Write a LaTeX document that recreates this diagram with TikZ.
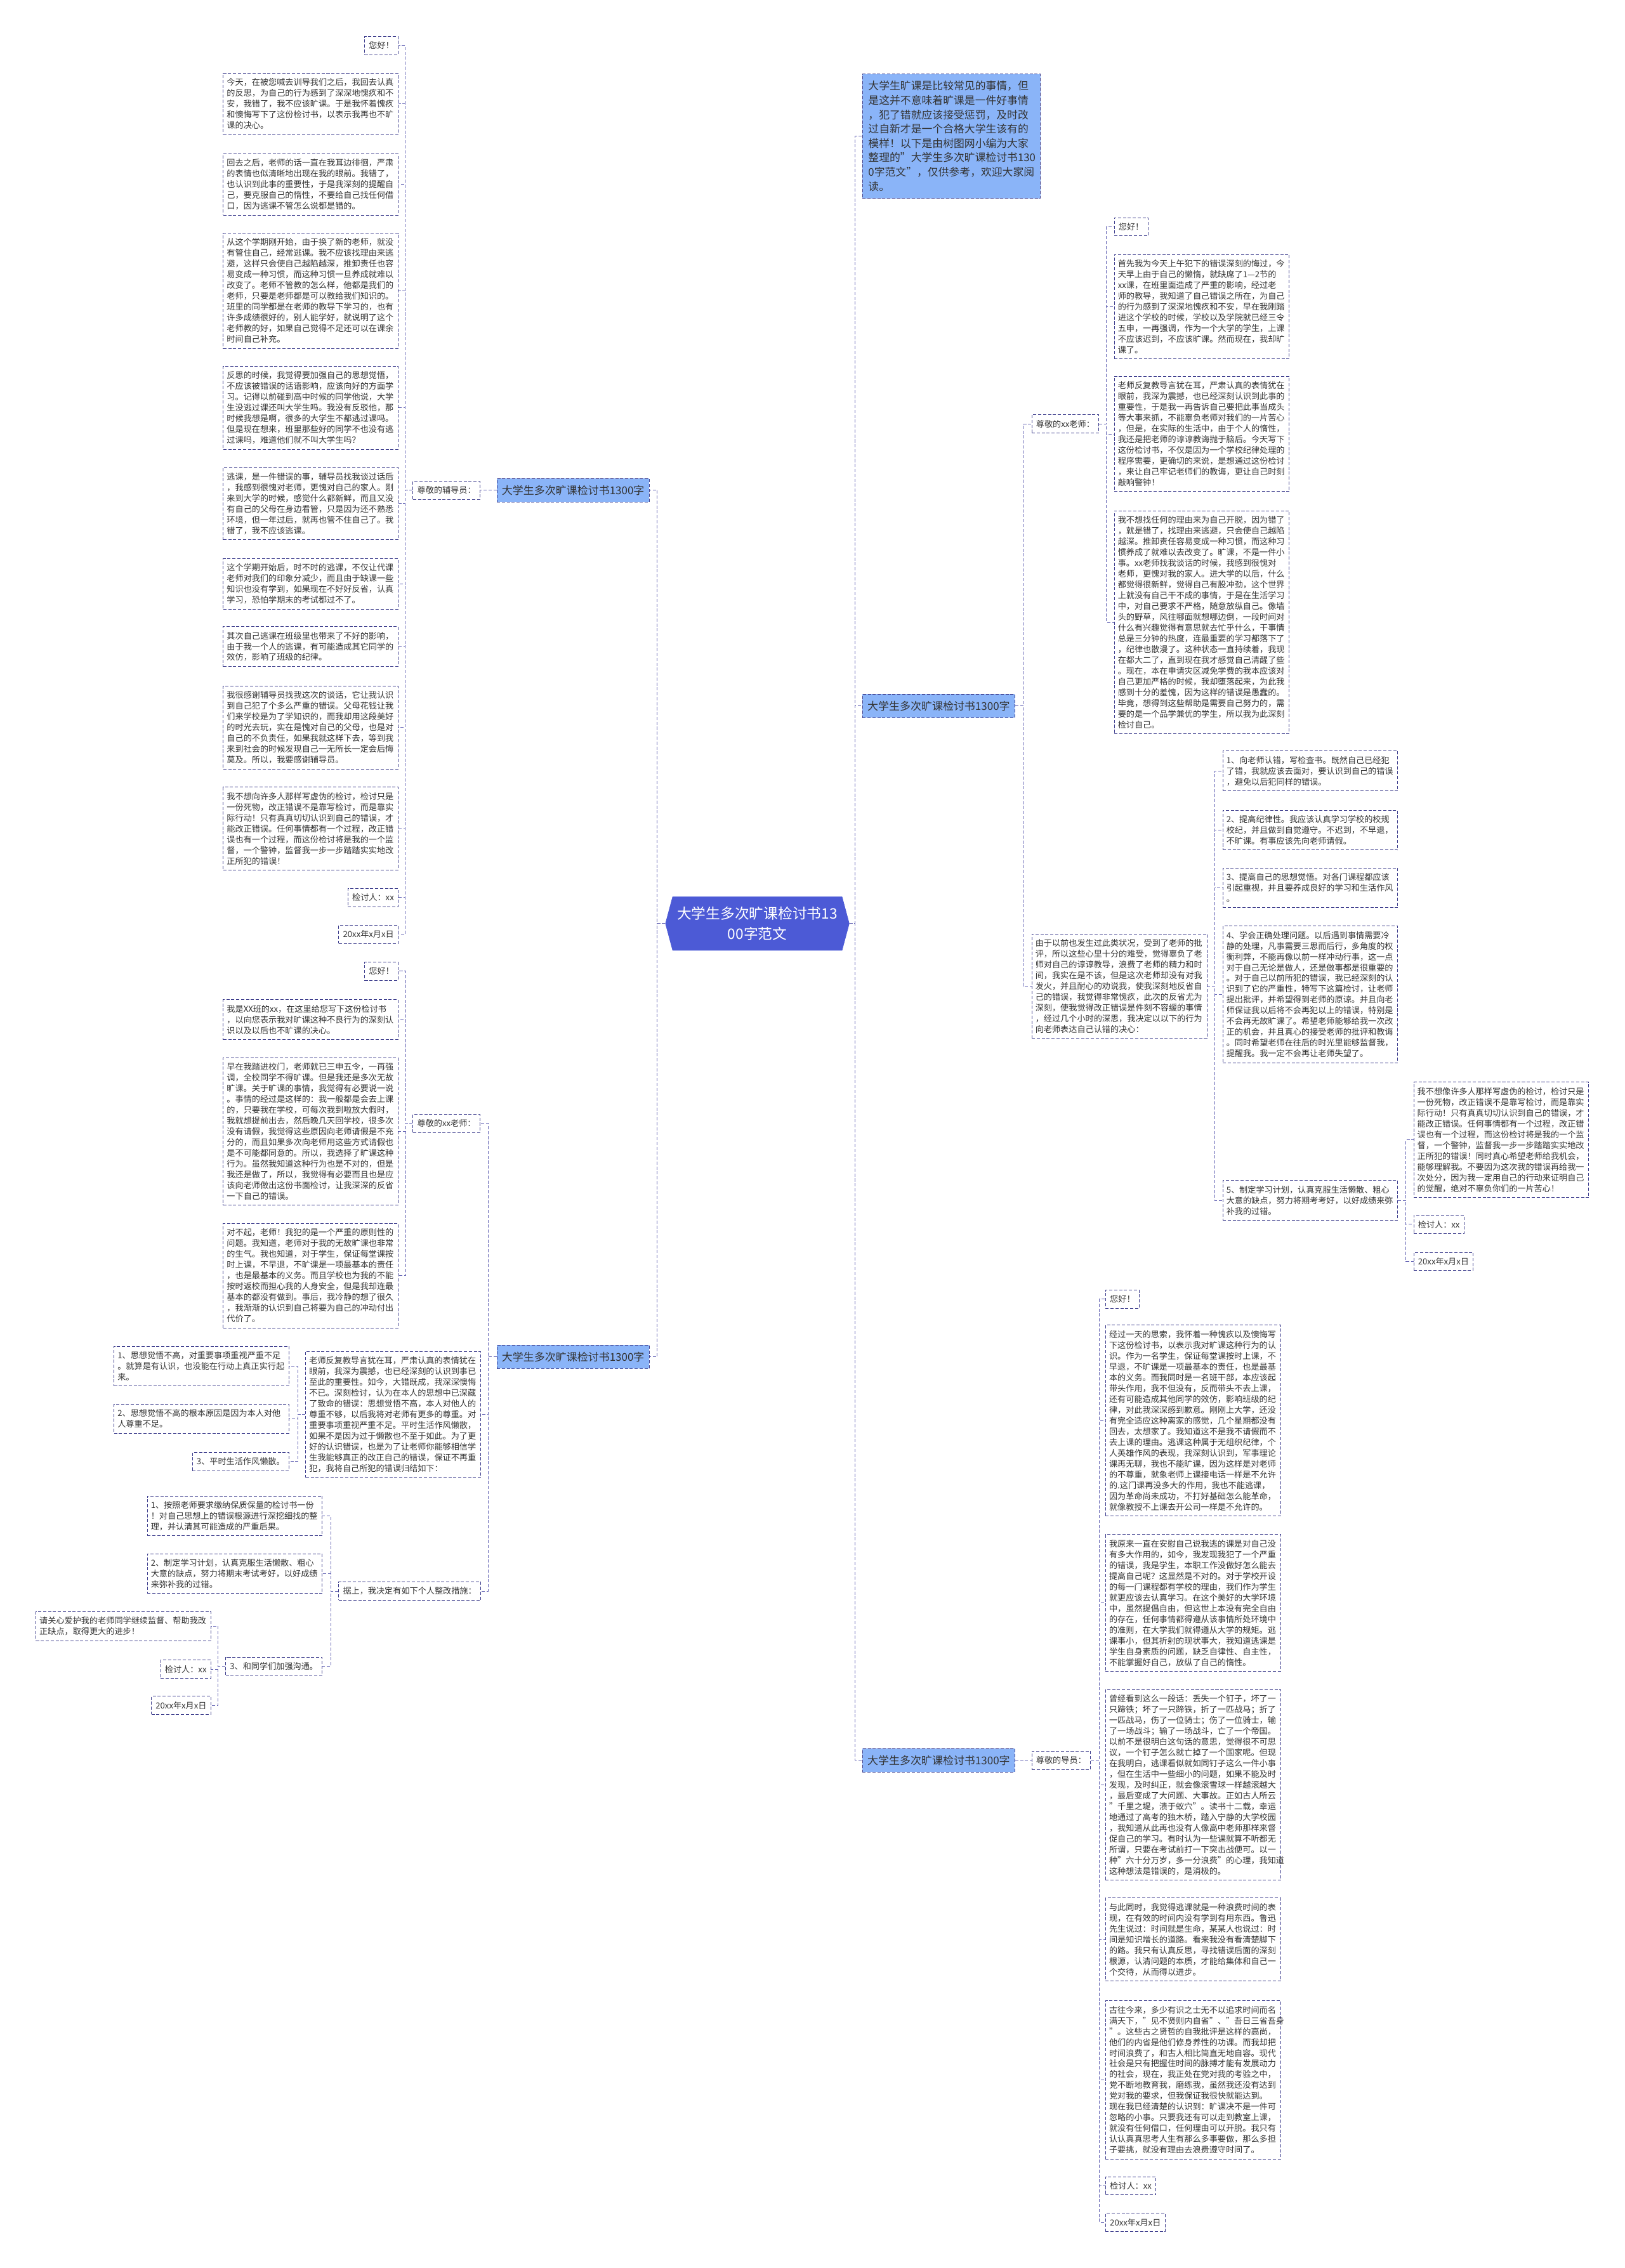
\documentclass[tikz,border=0pt]{standalone}
\usepackage{fontspec}
\setmainfont{Noto Sans CJK SC}
\usetikzlibrary{shapes.symbols}
\definecolor{BoxNavy}{RGB}{60,60,140}
\definecolor{LinkViolet}{RGB}{100,100,180}
\definecolor{LabelBlue}{RGB}{138,180,248}
\definecolor{HubBlue}{RGB}{76,90,214}
\definecolor{InkGray}{RGB}{51,51,51}
\newcommand\paratext{\fontsize{8.2pt}{10.6pt}\selectfont}
\newcommand\branchtext{\fontsize{10.6pt}{13pt}\selectfont}
\newcommand\introtext{\fontsize{10.5pt}{14.1pt}\selectfont}
\newcommand\hubtext{\fontsize{14.2pt}{19.8pt}\selectfont}
\tikzset{
  boxline/.style={draw=BoxNavy,line width=0.6pt,dash pattern=on 0.11cm off 0.06cm},
  para/.style={boxline,text=InkGray,font=\paratext,text width=5.8cm,align=left,
    inner xsep=0.125cm,inner ysep=0.18cm},
  tag/.style={boxline,text=InkGray,font=\paratext,inner xsep=0.15cm,inner ysep=0.18cm},
  branch/.style={boxline,fill=LabelBlue,text=InkGray,font=\branchtext,
    inner xsep=0.17cm,inner ysep=0.23cm},
  intro/.style={boxline,fill=LabelBlue,text=InkGray,font=\introtext,text width=5.75cm,
    align=left,inner xsep=0.2cm,inner ysep=0.24cm},
  hub/.style={shape=signal,signal to=west and east,signal pointer angle=150,
    fill=HubBlue,draw=HubBlue,text=white,font=\hubtext,align=center,
    minimum width=6.35cm,minimum height=1.85cm},
  link/.style={draw=LinkViolet,line width=0.6pt,dash pattern=on 0.11cm off 0.06cm}
}
\begin{document}
\begin{tikzpicture}[x=0.05cm,y=-0.05cm]
  \useasboundingbox (0,0) rectangle (1123,1568);
  \node[hub] (root) at (523.5,638.5) {大学生多次旷课检讨书13\\00字范文};

  % left, first letter
  \node[branch,anchor=east] (bra) at (449,339) {大学生多次旷课检讨书1300字};
  \node[tag,anchor=east] (asal) at (332,339) {尊敬的辅导员：};
  \node[tag,anchor=north east] (ahi) at (275.5,25) {您好！};
  \node[para,anchor=north east] (aone) at (275.5,50.4) {今天，在被您喊去训导我们之后，我回去认真\\
    的反思，为自己的行为感到了深深地愧疚和不\\
    安，我错了，我不应该旷课。于是我怀着愧疚\\
    和懊悔写下了这份检讨书，以表示我再也不旷\\
    课的决心。};
  \node[para,anchor=north east] (atwo) at (275.5,106) {回去之后，老师的话一直在我耳边徘徊，严肃\\
    的表情也似清晰地出现在我的眼前。我错了，\\
    也认识到此事的重要性，于是我深刻的提醒自\\
    己，要克服自己的惰性，不要给自己找任何借\\
    口，因为逃课不管怎么说都是错的。};
  \node[para,anchor=north east] (athree) at (275.5,161) {从这个学期刚开始，由于换了新的老师，就没\\
    有管住自己，经常逃课。我不应该找理由来逃\\
    避，这样只会使自己越陷越深，推卸责任也容\\
    易变成一种习惯，而这种习惯一旦养成就难以\\
    改变了。老师不管教的怎么样，他都是我们的\\
    老师，只要是老师都是可以教给我们知识的。\\
    班里的同学都是在老师的教导下学习的，也有\\
    许多成绩很好的，别人能学好，就说明了这个\\
    老师教的好，如果自己觉得不足还可以在课余\\
    时间自己补充。};
  \node[para,anchor=north east] (afour) at (275.5,253) {反思的时候，我觉得要加强自己的思想觉悟，\\
    不应该被错误的话语影响，应该向好的方面学\\
    习。记得以前碰到高中时候的同学他说，大学\\
    生没逃过课还叫大学生吗。我没有反驳他，那\\
    时候我想是啊，很多的大学生不都逃过课吗。\\
    但是现在想来，班里那些好的同学不也没有逃\\
    过课吗，难道他们就不叫大学生吗？};
  \node[para,anchor=north east] (afive) at (275.5,323) {逃课，是一件错误的事，辅导员找我谈过话后\\
    ，我感到很愧对老师，更愧对自己的家人。刚\\
    来到大学的时候，感觉什么都新鲜，而且又没\\
    有自己的父母在身边看管，只是因为还不熟悉\\
    环境，但一年过后，就再也管不住自己了。我\\
    错了，我不应该逃课。};
  \node[para,anchor=north east] (asix) at (275.5,386) {这个学期开始后，时不时的逃课，不仅让代课\\
    老师对我们的印象分减少，而且由于缺课一些\\
    知识也没有学到，如果现在不好好反省，认真\\
    学习，恐怕学期末的考试都过不了。};
  \node[para,anchor=north east] (aseven) at (275.5,433) {其次自己逃课在班级里也带来了不好的影响，\\
    由于我一个人的逃课，有可能造成其它同学的\\
    效仿，影响了班级的纪律。};
  \node[para,anchor=north east] (aeight) at (275.5,474) {我很感谢辅导员找我这次的谈话，它让我认识\\
    到自己犯了个多么严重的错误。父母花钱让我\\
    们来学校是为了学知识的，而我却用这段美好\\
    的时光去玩，实在是愧对自己的父母，也是对\\
    自己的不负责任，如果我就这样下去，等到我\\
    来到社会的时候发现自己一无所长一定会后悔\\
    莫及。所以，我要感谢辅导员。};
  \node[para,anchor=north east] (anine) at (275.5,544) {我不想向许多人那样写虚伪的检讨，检讨只是\\
    一份死物，改正错误不是靠写检讨，而是靠实\\
    际行动！只有真真切切认识到自己的错误，才\\
    能改正错误。任何事情都有一个过程，改正错\\
    误也有一个过程，而这份检讨将是我的一个监\\
    督，一个警钟，监督我一步一步踏踏实实地改\\
    正所犯的错误！};
  \node[tag,anchor=north east] (asign) at (275.5,614) {检讨人：xx};
  \node[tag,anchor=north east] (adate) at (275.5,639.5) {20xx年x月x日};

  % left, second letter
  \node[branch,anchor=east] (brb) at (449,938) {大学生多次旷课检讨书1300字};
  \node[tag,anchor=east] (bsal) at (332,776.7) {尊敬的xx老师：};
  \node[tag,anchor=north east] (bhi) at (275.5,665) {您好！};
  \node[para,anchor=north east] (bone) at (275.5,691) {我是XX班的xx，在这里给您写下这份检讨书\\
    ，以向您表示我对旷课这种不良行为的深刻认\\
    识以及以后也不旷课的决心。};
  \node[para,anchor=north east] (btwo) at (275.5,731) {早在我踏进校门，老师就已三申五令，一再强\\
    调，全校同学不得旷课。但是我还是多次无故\\
    旷课。关于旷课的事情，我觉得有必要说一说\\
    。事情的经过是这样的：我一般都是会去上课\\
    的，只要我在学校，可每次我到啦放大假时，\\
    我就想提前出去，然后晚几天回学校，很多次\\
    没有请假，我觉得这些原因向老师请假是不充\\
    分的，而且如果多次向老师用这些方式请假也\\
    是不可能都同意的。所以，我选择了旷课这种\\
    行为。虽然我知道这种行为也是不对的，但是\\
    我还是做了，所以，我觉得有必要而且也是应\\
    该向老师做出这份书面检讨，让我深深的反省\\
    一下自己的错误。};
  \node[para,anchor=north east] (bthree) at (275.5,845.6) {对不起，老师！我犯的是一个严重的原则性的\\
    问题。我知道，老师对于我的无故旷课也非常\\
    的生气。我也知道，对于学生，保证每堂课按\\
    时上课，不早退，不旷课是一项最基本的责任\\
    ，也是最基本的义务。而且学校也为我的不能\\
    按时返校而担心我的人身安全，但是我却连最\\
    基本的都没有做到。事后，我冷静的想了很久\\
    ，我渐渐的认识到自己将要为自己的冲动付出\\
    代价了。};
  \node[para,anchor=north east] (bview) at (332.5,934) {老师反复教导言犹在耳，严肃认真的表情犹在\\
    眼前，我深为震撼，也已经深刻的认识到事已\\
    至此的重要性。如今，大错既成，我深深懊悔\\
    不已。深刻检讨，认为在本人的思想中已深藏\\
    了致命的错误：思想觉悟不高，本人对他人的\\
    尊重不够，以后我将对老师有更多的尊重。对\\
    重要事项重视严重不足。平时生活作风懒散，\\
    如果不是因为过于懒散也不至于如此。为了更\\
    好的认识错误，也是为了让老师你能够相信学\\
    生我能够真正的改正自己的错误，保证不再重\\
    犯，我将自己所犯的错误归结如下：};
  \node[para,anchor=north east] (bvone) at (200,930.5) {1、思想觉悟不高，对重要事项重视严重不足\\
    。就算是有认识，也没能在行动上真正实行起\\
    来。};
  \node[para,anchor=north east] (bvtwo) at (200,970.6) {2、思想觉悟不高的根本原因是因为本人对他\\
    人尊重不足。};
  \node[tag,anchor=north east] (bvthree) at (200,1004) {3、平时生活作风懒散。};
  \node[tag,anchor=east] (bplan) at (332.5,1100) {据上，我决定有如下个人整改措施：};
  \node[para,anchor=north east] (bpone) at (223,1034) {1、按照老师要求缴纳保质保量的检讨书一份\\
    ！对自己思想上的错误根源进行深挖细找的整\\
    理，并认清其可能造成的严重后果。};
  \node[para,anchor=north east] (bptwo) at (223,1074) {2、制定学习计划，认真克服生活懒散、粗心\\
    大意的缺点，努力将期末考试考好，以好成绩\\
    来弥补我的过错。};
  \node[tag,anchor=east] (bpthree) at (223,1152) {3、和同学们加强沟通。};
  \node[para,anchor=north east] (bend) at (146,1114) {请关心爱护我的老师同学继续监督、帮助我改\\
    正缺点，取得更大的进步！};
  \node[tag,anchor=east] (bsign) at (146,1154) {检讨人：xx};
  \node[tag,anchor=north east] (bdate) at (146,1172.5) {20xx年x月x日};

  % right, intro and third letter
  \node[intro,anchor=north west] (lead) at (596,51) {大学生旷课是比较常见的事情，但\\
    是这并不意味着旷课是一件好事情\\
    ，犯了错就应该接受惩罚，及时改\\
    过自新才是一个合格大学生该有的\\
    模样！以下是由树图网小编为大家\\
    整理的"大学生多次旷课检讨书130\\
    0字范文"，仅供参考，欢迎大家阅\\
    读。};
  \node[branch,anchor=west] (brc) at (596,488) {大学生多次旷课检讨书1300字};
  \node[tag,anchor=west] (csal) at (713,293) {尊敬的xx老师：};
  \node[tag,anchor=north west] (chi) at (770,150.3) {您好！};
  \node[para,anchor=north west] (cone) at (770,175.7) {首先我为今天上午犯下的错误深刻的悔过，今\\
    天早上由于自己的懒惰，就缺席了1—2节的\\
    xx课，在班里面造成了严重的影响，经过老\\
    师的教导，我知道了自己错误之所在，为自己\\
    的行为感到了深深地愧疚和不安，早在我刚踏\\
    进这个学校的时候，学校以及学院就已经三令\\
    五申，一再强调，作为一个大学的学生，上课\\
    不应该迟到，不应该旷课。然而现在，我却旷\\
    课了。};
  \node[para,anchor=north west] (ctwo) at (770,260) {老师反复教导言犹在耳，严肃认真的表情犹在\\
    眼前，我深为震撼，也已经深刻认识到此事的\\
    重要性，于是我一再告诉自己要把此事当成头\\
    等大事来抓，不能辜负老师对我们的一片苦心\\
    ，但是，在实际的生活中，由于个人的惰性，\\
    我还是把老师的谆谆教诲抛于脑后。今天写下\\
    这份检讨书，不仅是因为一个学校纪律处理的\\
    程序需要，更确切的来说，是想通过这份检讨\\
    ，来让自己牢记老师们的教诲，更让自己时刻\\
    敲响警钟！};
  \node[para,anchor=north west] (cthree) at (770,353) {我不想找任何的理由来为自己开脱，因为错了\\
    ，就是错了，找理由来逃避，只会使自己越陷\\
    越深。推卸责任容易变成一种习惯，而这种习\\
    惯养成了就难以去改变了。旷课，不是一件小\\
    事。xx老师找我谈话的时候，我感到很愧对\\
    老师，更愧对我的家人。进大学的以后，什么\\
    都觉得很新鲜，觉得自己有股冲劲，这个世界\\
    上就没有自己干不成的事情，于是在生活学习\\
    中，对自己要求不严格，随意放纵自己。像墙\\
    头的野草，风往哪面就想哪边倒，一段时间对\\
    什么有兴趣觉得有意思就去忙乎什么，干事情\\
    总是三分钟的热度，连最重要的学习都落下了\\
    ，纪律也散漫了。这种状态一直持续着，我现\\
    在都大二了，直到现在我才感觉自己清醒了些\\
    。现在，本在申请灾区减免学费的我本应该对\\
    自己更加严格的时候，我却堕落起来，为此我\\
    感到十分的羞愧，因为这样的错误是愚蠢的。\\
    毕竟，想得到这些帮助是需要自己努力的，需\\
    要的是一个品学兼优的学生，所以我为此深刻\\
    检讨自己。};
  \node[para,anchor=north west] (cwhy) at (713,645.5) {由于以前也发生过此类状况，受到了老师的批\\
    评，所以这些心里十分的难受，觉得辜负了老\\
    师对自己的谆谆教导，浪费了老师的精力和时\\
    间，我实在是不该，但是这次老师却没有对我\\
    发火，并且耐心的劝说我，使我深刻地反省自\\
    己的错误，我觉得非常愧疚，此次的反省尤为\\
    深刻，使我觉得改正错误是件刻不容缓的事情\\
    ，经过几个小时的深思，我决定以以下的行为\\
    向老师表达自己认错的决心：};
  \node[para,anchor=north west] (cwone) at (845,519) {1、向老师认错，写检查书。既然自己已经犯\\
    了错，我就应该去面对，要认识到自己的错误\\
    ，避免以后犯同样的错误。};
  \node[para,anchor=north west] (cwtwo) at (845,560) {2、提高纪律性。我应该认真学习学校的校规\\
    校纪，并且做到自觉遵守。不迟到，不早退，\\
    不旷课。有事应该先向老师请假。};
  \node[para,anchor=north west] (cwthree) at (845,600) {3、提高自己的思想觉悟。对各门课程都应该\\
    引起重视，并且要养成良好的学习和生活作风\\
    。};
  \node[para,anchor=north west] (cwfour) at (845,640) {4、学会正确处理问题。以后遇到事情需要冷\\
    静的处理，凡事需要三思而后行，多角度的权\\
    衡利弊，不能再像以前一样冲动行事，这一点\\
    对于自己无论是做人，还是做事都是很重要的\\
    。对于自己以前所犯的错误，我已经深刻的认\\
    识到了它的严重性，特写下这篇检讨，让老师\\
    提出批评，并希望得到老师的原谅。并且向老\\
    师保证我以后将不会再犯以上的错误，特别是\\
    不会再无故旷课了。希望老师能够给我一次改\\
    正的机会，并且真心的接受老师的批评和教诲\\
    。同时希望老师在往后的时光里能够监督我，\\
    提醒我。我一定不会再让老师失望了。};
  \node[para,anchor=north west] (cwfive) at (845,816) {5、制定学习计划，认真克服生活懒散、粗心\\
    大意的缺点，努力将期考考好，以好成绩来弥\\
    补我的过错。};
  \node[para,anchor=north west] (cend) at (977,748) {我不想像许多人那样写虚伪的检讨，检讨只是\\
    一份死物，改正错误不是靠写检讨，而是靠实\\
    际行动！只有真真切切认识到自己的错误，才\\
    能改正错误。任何事情都有一个过程，改正错\\
    误也有一个过程，而这份检讨将是我的一个监\\
    督，一个警钟，监督我一步一步踏踏实实地改\\
    正所犯的错误！同时真心希望老师给我机会，\\
    能够理解我。不要因为这次我的错误再给我一\\
    次处分，因为我一定用自己的行动来证明自己\\
    的觉醒，绝对不辜负你们的一片苦心！};
  \node[tag,anchor=north west] (csign) at (977,840) {检讨人：xx};
  \node[tag,anchor=north west] (cdate) at (977,865.6) {20xx年x月x日};

  % right, fourth letter
  \node[branch,anchor=west] (brd) at (596,1217) {大学生多次旷课检讨书1300字};
  \node[tag,anchor=west] (dsal) at (713,1217) {尊敬的导员：};
  \node[tag,anchor=north west] (dhi) at (764,891.7) {您好！};
  \node[para,anchor=north west] (done) at (764,916) {经过一天的思索，我怀着一种愧疚以及懊悔写\\
    下这份检讨书，以表示我对旷课这种行为的认\\
    识。作为一名学生，保证每堂课按时上课，不\\
    早退，不旷课是一项最基本的责任，也是最基\\
    本的义务。而我同时是一名班干部，本应该起\\
    带头作用，我不但没有，反而带头不去上课，\\
    还有可能造成其他同学的效仿，影响班级的纪\\
    律，对此我深深感到歉意。刚刚上大学，还没\\
    有完全适应这种离家的感觉，几个星期都没有\\
    回去，太想家了。我知道这不是我不请假而不\\
    去上课的理由。逃课这种属于无组织纪律，个\\
    人英雄作风的表现，我深刻认识到，军事理论\\
    课再无聊，我也不能旷课，因为这样是对老师\\
    的不尊重，就象老师上课接电话一样是不允许\\
    的.这门课再没多大的作用，我也不能逃课，\\
    因为革命尚未成功，不打好基础怎么能革命，\\
    就像教授不上课去开公司一样是不允许的。};
  \node[para,anchor=north west] (dtwo) at (764,1060.7) {我原来一直在安慰自己说我逃的课是对自己没\\
    有多大作用的，如今，我发现我犯了一个严重\\
    的错误，我是学生，本职工作没做好怎么能去\\
    提高自己呢？这显然是不对的。对于学校开设\\
    的每一门课程都有学校的理由，我们作为学生\\
    就更应该去认真学习。在这个美好的大学环境\\
    中，虽然提倡自由，但这世上本没有完全自由\\
    的存在，任何事情都得遵从该事情所处环境中\\
    的准则，在大学我们就得遵从大学的规矩。逃\\
    课事小，但其折射的现状事大，我知道逃课是\\
    学生自身素质的问题，缺乏自律性、自主性，\\
    不能掌握好自己，放纵了自己的惰性。};
  \node[para,anchor=north west] (dthree) at (764,1167.8) {曾经看到这么一段话：丢失一个钉子，坏了一\\
    只蹄铁；坏了一只蹄铁，折了一匹战马；折了\\
    一匹战马，伤了一位骑士；伤了一位骑士，输\\
    了一场战斗；输了一场战斗，亡了一个帝国。\\
    以前不是很明白这句话的意思，觉得很不可思\\
    议，一个钉子怎么就亡掉了一个国家呢。但现\\
    在我明白，逃课看似就如同钉子这么一件小事\\
    ，但在生活中一些细小的问题，如果不能及时\\
    发现，及时纠正，就会像滚雪球一样越滚越大\\
    ，最后变成了大问题、大事故。正如古人所云\\
    "千里之堤，溃于蚁穴"。读书十二载，幸运\\
    地通过了高考的独木桥，踏入宁静的大学校园\\
    ，我知道从此再也没有人像高中老师那样来督\\
    促自己的学习。有时认为一些课就算不听都无\\
    所谓，只要在考试前打一下突击战便可。以一\\
    种"六十分万岁，多一分浪费"的心理，我知道\\
    这种想法是错误的，是消极的。};
  \node[para,anchor=north west] (dfour) at (764,1312) {与此同时，我觉得逃课就是一种浪费时间的表\\
    现，在有效的时间内没有学到有用东西。鲁迅\\
    先生说过：时间就是生命，某某人也说过：时\\
    间是知识增长的道路。看来我没有看清楚脚下\\
    的路。我只有认真反思，寻找错误后面的深刻\\
    根源，认清问题的本质，才能给集体和自己一\\
    个交待，从而得以进步。};
  \node[para,anchor=north west] (dfive) at (764,1383) {古往今来，多少有识之士无不以追求时间而名\\
    满天下，"见不贤则内自省"、"吾日三省吾身\\
    "。这些古之贤哲的自我批评是这样的高尚，\\
    他们的内省是他们修身养性的功课。而我却把\\
    时间浪费了，和古人相比简直无地自容。现代\\
    社会是只有把握住时间的脉搏才能有发展动力\\
    的社会，现在，我正处在党对我的考验之中，\\
    党不断地教育我，磨练我，虽然我还没有达到\\
    党对我的要求，但我保证我很快就能达到。\\
    现在我已经清楚的认识到：旷课决不是一件可\\
    忽略的小事。只要我还有可以走到教室上课，\\
    就没有任何借口，任何理由可以开脱。我只有\\
    认认真真思考人生有那么多事要做，那么多担\\
    子要挑，就没有理由去浪费遵守时间了。};
  \node[tag,anchor=north west] (dsign) at (764,1504.7) {检讨人：xx};
  \node[tag,anchor=north west] (ddate) at (764,1530) {20xx年x月x日};

  \draw[link] (root.west) -- ++(-5.5,0) |- (bra.east) (root.west) -- ++(-5.5,0) |- (brb.east);
  \draw[link] (root.east) -- ++(4,0) |- (lead.west) (root.east) -- ++(4,0) |- (brc.west)
    (root.east) -- ++(4,0) |- (brd.west);
  \draw[link] (bra.west) -- (asal.east);
  \draw[link] (asal.west) -- ++(-5,0) |- (ahi.east) (asal.west) -- ++(-5,0) |- (aone.east)
    (asal.west) -- ++(-5,0) |- (atwo.east) (asal.west) -- ++(-5,0) |- (athree.east)
    (asal.west) -- ++(-5,0) |- (afour.east) (asal.west) -- ++(-5,0) |- (afive.east)
    (asal.west) -- ++(-5,0) |- (asix.east) (asal.west) -- ++(-5,0) |- (aseven.east)
    (asal.west) -- ++(-5,0) |- (aeight.east) (asal.west) -- ++(-5,0) |- (anine.east)
    (asal.west) -- ++(-5,0) |- (asign.east) (asal.west) -- ++(-5,0) |- (adate.east);
  \draw[link] (brb.west) -- ++(-6,0) |- (bsal.east) (brb.west) -- ++(-6,0) |- (bview.east)
    (brb.west) -- ++(-6,0) |- (bplan.east);
  \draw[link] (bsal.west) -- ++(-5,0) |- (bhi.east) (bsal.west) -- ++(-5,0) |- (bone.east)
    (bsal.west) -- ++(-5,0) |- (btwo.east) (bsal.west) -- ++(-5,0) |- (bthree.east);
  \draw[link] (bview.west) -- ++(-5.3,0) |- (bvone.east) (bview.west) -- ++(-5.3,0) |- (bvtwo.east)
    (bview.west) -- ++(-5.3,0) |- (bvthree.east);
  \draw[link] (bplan.west) -- ++(-5.2,0) |- (bpone.east) (bplan.west) -- ++(-5.2,0) |- (bptwo.east)
    (bplan.west) -- ++(-5.2,0) |- (bpthree.east);
  \draw[link] (bpthree.west) -- ++(-5,0) |- (bend.east) (bpthree.west) -- ++(-5,0) |- (bsign.east)
    (bpthree.west) -- ++(-5,0) |- (bdate.east);
  \draw[link] (brc.east) -- ++(5.6,0) |- (csal.west) (brc.east) -- ++(5.6,0) |- (cwhy.west);
  \draw[link] (csal.east) -- ++(5,0) |- (chi.west) (csal.east) -- ++(5,0) |- (cone.west)
    (csal.east) -- ++(5,0) |- (ctwo.west) (csal.east) -- ++(5,0) |- (cthree.west);
  \draw[link] (cwhy.east) -- ++(5.3,0) |- (cwone.west) (cwhy.east) -- ++(5.3,0) |- (cwtwo.west)
    (cwhy.east) -- ++(5.3,0) |- (cwthree.west) (cwhy.east) -- ++(5.3,0) |- (cwfour.west)
    (cwhy.east) -- ++(5.3,0) |- (cwfive.west);
  \draw[link] (cwfive.east) -- ++(5.5,0) |- (cend.west) (cwfive.east) -- ++(5.5,0) |- (csign.west)
    (cwfive.east) -- ++(5.5,0) |- (cdate.west);
  \draw[link] (brd.east) -- (dsal.west);
  \draw[link] (dsal.east) -- ++(6,0) |- (dhi.west) (dsal.east) -- ++(6,0) |- (done.west)
    (dsal.east) -- ++(6,0) |- (dtwo.west) (dsal.east) -- ++(6,0) |- (dthree.west)
    (dsal.east) -- ++(6,0) |- (dfour.west) (dsal.east) -- ++(6,0) |- (dfive.west)
    (dsal.east) -- ++(6,0) |- (dsign.west) (dsal.east) -- ++(6,0) |- (ddate.west);
\end{tikzpicture}
\end{document}
